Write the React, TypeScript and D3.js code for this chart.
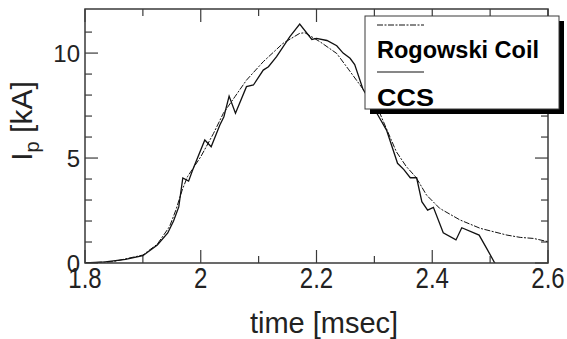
import React from 'react'
import * as d3 from 'd3'

// time [msec] and Ip [kA]
const ccsTime = [1.8, 1.835, 1.87, 1.9, 1.925, 1.943, 1.953, 1.962, 1.969, 1.979, 1.986, 2.007, 2.018, 2.033, 2.04, 2.049, 2.06, 2.079, 2.091, 2.108, 2.117, 2.131, 2.154, 2.171, 2.192, 2.2, 2.218, 2.235, 2.246, 2.258, 2.266, 2.28, 2.306, 2.321, 2.34, 2.351, 2.362, 2.373, 2.382, 2.392, 2.402, 2.419, 2.441, 2.451, 2.481, 2.494, 2.508, 2.52]
const ccsValue = [0, 0.05, 0.17, 0.35, 0.86, 1.43, 2.0, 2.67, 4.05, 3.9, 4.43, 5.86, 5.54, 6.57, 6.97, 7.95, 7.13, 8.4, 8.48, 9.19, 9.35, 9.83, 10.78, 11.38, 10.65, 10.7, 10.6, 10.35, 10.0, 9.75, 9.45, 8.3, 7.05, 6.33, 4.75, 4.45, 4.06, 4.06, 2.92, 2.52, 2.65, 1.44, 1.1, 1.68, 1.33, 0.7, 0, -0.3]

const rogTime = [1.8, 1.848, 1.9, 1.925, 1.946, 1.957, 1.968, 1.977, 2.0, 2.022, 2.039, 2.059, 2.079, 2.108, 2.142, 2.171, 2.18, 2.206, 2.235, 2.256, 2.28, 2.31, 2.327, 2.338, 2.355, 2.372, 2.39, 2.413, 2.448, 2.483, 2.529, 2.552, 2.575, 2.601]
const rogValue = [0, 0.06, 0.38, 0.9, 1.73, 2.52, 3.48, 4.11, 5.06, 6.17, 7.13, 7.92, 8.71, 9.59, 10.46, 10.94, 10.97, 10.54, 9.98, 9.2, 8.3, 7.1, 6.0, 5.3, 4.6, 4.08, 3.24, 2.6, 2.05, 1.65, 1.33, 1.22, 1.17, 1.01]

const xMajor = [1.8, 2, 2.2, 2.4, 2.6]
const xMinor = [1.9, 2.1, 2.3, 2.5]
const yMajor = [0, 5, 10]
const yMinor = [1, 2, 3, 4, 6, 7, 8, 9, 11]

const legendItems = ['Rogowski Coil', 'CCS']

const width = 567
const height = 339
const margin = { top: 9, right: 19, bottom: 76, left: 85 }
const font = "'Liberation Sans', Arial, Helvetica, sans-serif"

function App () {
  const x = d3.scaleLinear().domain([1.8, 2.6]).range([margin.left, width - margin.right])
  const y = d3.scaleLinear().domain([0, 12.1]).range([height - margin.bottom, margin.top])
  const x0 = x.range()[0]
  const x1 = x.range()[1]
  const y0 = y.range()[0]
  const y1 = y.range()[1]

  const line = d3.line<[number, number]>()
    .x(d => x(d[0]))
    .y(d => y(d[1]))

  const ccs = ccsTime.map((t, i) => [t, ccsValue[i]] as [number, number])
  const rog = rogTime.map((t, i) => [t, rogValue[i]] as [number, number])

  const axisColor = '#3a3a3a'
  const major = 13
  const minor = 7

  // legend box
  const lx = 365
  const ly = 16
  const lw = 194
  const lh = 93

  return (
    <svg width={width} height={height} style={{ position: 'absolute', left: 0, top: 0, background: '#fff' }} fontFamily={font}>
      <defs>
        <clipPath id='plot-clip'>
          <rect x={x0} y={y1} width={x1 - x0} height={y0 - y1} />
        </clipPath>
      </defs>

      {/* frame ticks */}
      <g stroke={axisColor} strokeWidth={1.2}>
        {xMajor.map(v => (
          <g key={'xM' + v}>
            <line x1={x(v)} x2={x(v)} y1={y0} y2={y0 - major} />
            <line x1={x(v)} x2={x(v)} y1={y1} y2={y1 + major} />
          </g>
        ))}
        {xMinor.map(v => (
          <g key={'xm' + v}>
            <line x1={x(v)} x2={x(v)} y1={y0} y2={y0 - minor} />
            <line x1={x(v)} x2={x(v)} y1={y1} y2={y1 + minor} />
          </g>
        ))}
        {yMajor.map(v => (
          <g key={'yM' + v}>
            <line x1={x0} x2={x0 + major} y1={y(v)} y2={y(v)} />
            <line x1={x1} x2={x1 - major} y1={y(v)} y2={y(v)} />
          </g>
        ))}
        {yMinor.map(v => (
          <g key={'ym' + v}>
            <line x1={x0} x2={x0 + minor} y1={y(v)} y2={y(v)} />
            <line x1={x1} x2={x1 - minor} y1={y(v)} y2={y(v)} />
          </g>
        ))}
      </g>

      {/* data */}
      <g clipPath='url(#plot-clip)' fill='none' stroke='#111'>
        <path d={line(rog) || ''} strokeWidth={1} strokeDasharray='6 1.5 2 1.5' />
        <path d={line(ccs) || ''} strokeWidth={1.3} />
      </g>

      <rect x={x0} y={y1} width={x1 - x0} height={y0 - y1} fill='none' stroke={axisColor} strokeWidth={1.5} />

      {/* tick labels */}
      <g fontSize={24} fill='#222'>
        {xMajor.map(v => (
          <text key={'xl' + v} transform={`translate(${x(v)},288) scale(1,1.2)`} textAnchor='middle'>{String(v)}</text>
        ))}
        {yMajor.map(v => (
          <text key={'yl' + v} x={80} y={y(v)} dy='0.36em' textAnchor='end'>{String(v)}</text>
        ))}
      </g>

      {/* axis titles */}
      <text x={324} y={333} fontSize={29} textAnchor='middle' fill='#222'>time [msec]</text>
      <text transform='translate(32,121) rotate(-90)' fontSize={30} textAnchor='middle' fill='#222'>
        I<tspan fontSize={20} dy={7}>p</tspan><tspan dy={-7}> [kA]</tspan>
      </text>

      {/* legend */}
      <rect x={lx + 5} y={ly + 5} width={lw} height={lh} fill='#000' />
      <rect x={lx} y={ly} width={lw} height={lh} fill='#fff' stroke={axisColor} strokeWidth={1} />
      <line x1={377} x2={424} y1={25} y2={25} stroke='#111' strokeWidth={1} strokeDasharray='6 1.5 2 1.5' />
      <text x={377} y={58} fontSize={23} fontWeight='bold' fill='#000' textLength={162} lengthAdjust='spacingAndGlyphs'>{legendItems[0]}</text>
      <line x1={377} x2={424} y1={72} y2={72} stroke='#111' strokeWidth={1.2} />
      <text x={377} y={106} fontSize={23} fontWeight='bold' fill='#000' textLength={57} lengthAdjust='spacingAndGlyphs'>{legendItems[1]}</text>
    </svg>
  )
}

export default App
